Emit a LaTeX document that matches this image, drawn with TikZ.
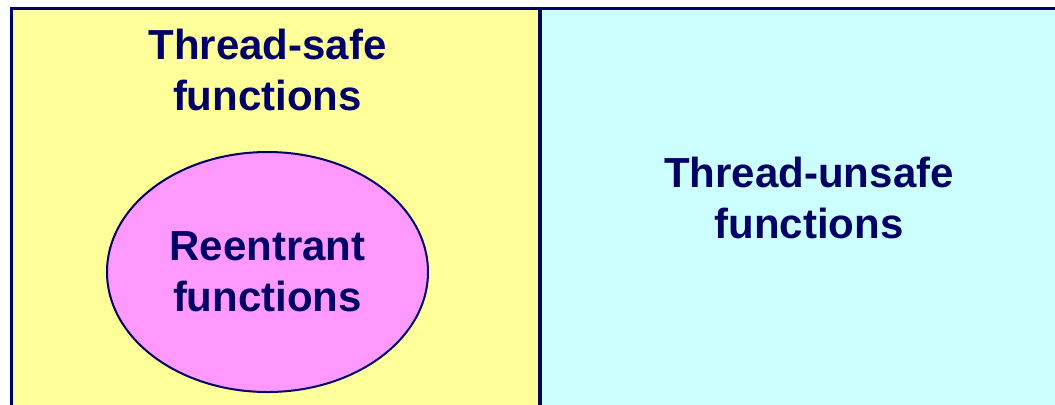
\documentclass[tikz,border=0pt]{standalone}
\usepackage{fontspec}
\setmainfont{Liberation Sans}
\definecolor{SafeYellow}{RGB}{255,255,153}
\definecolor{UnsafeCyan}{RGB}{204,255,255}
\definecolor{ReentPink}{RGB}{255,153,255}
\definecolor{Navy}{RGB}{0,0,102}
\usetikzlibrary{shapes.geometric}

\begin{document}
\begin{tikzpicture}[x=0.5pt,y=-0.5pt,
  settext/.style={text=Navy,font=\fontsize{21}{25.5}\selectfont\bfseries,align=center,inner sep=0pt}]
  \useasboundingbox (0,0) rectangle (1055,404);
  \clip (0,0) rectangle (1055,404);
  \draw[draw=Navy,fill=SafeYellow,line width=1.75pt] (11.5,8.5) rectangle (540,420);
  \draw[draw=Navy,fill=UnsafeCyan,line width=1.75pt] (540,8.5) rectangle (1080,420);
  \node[settext] (safe) at (267.5,69.5) {Thread-safe\\functions};
  \node[settext] (unsafe) at (809,197.5) {Thread-unsafe\\functions};
  \node[settext,ellipse,draw=Navy,fill=ReentPink,line width=1pt,minimum width=160.5pt,minimum height=120pt] (reent) at (267.5,272) {Reentrant\\functions};
\end{tikzpicture}
\end{document}
